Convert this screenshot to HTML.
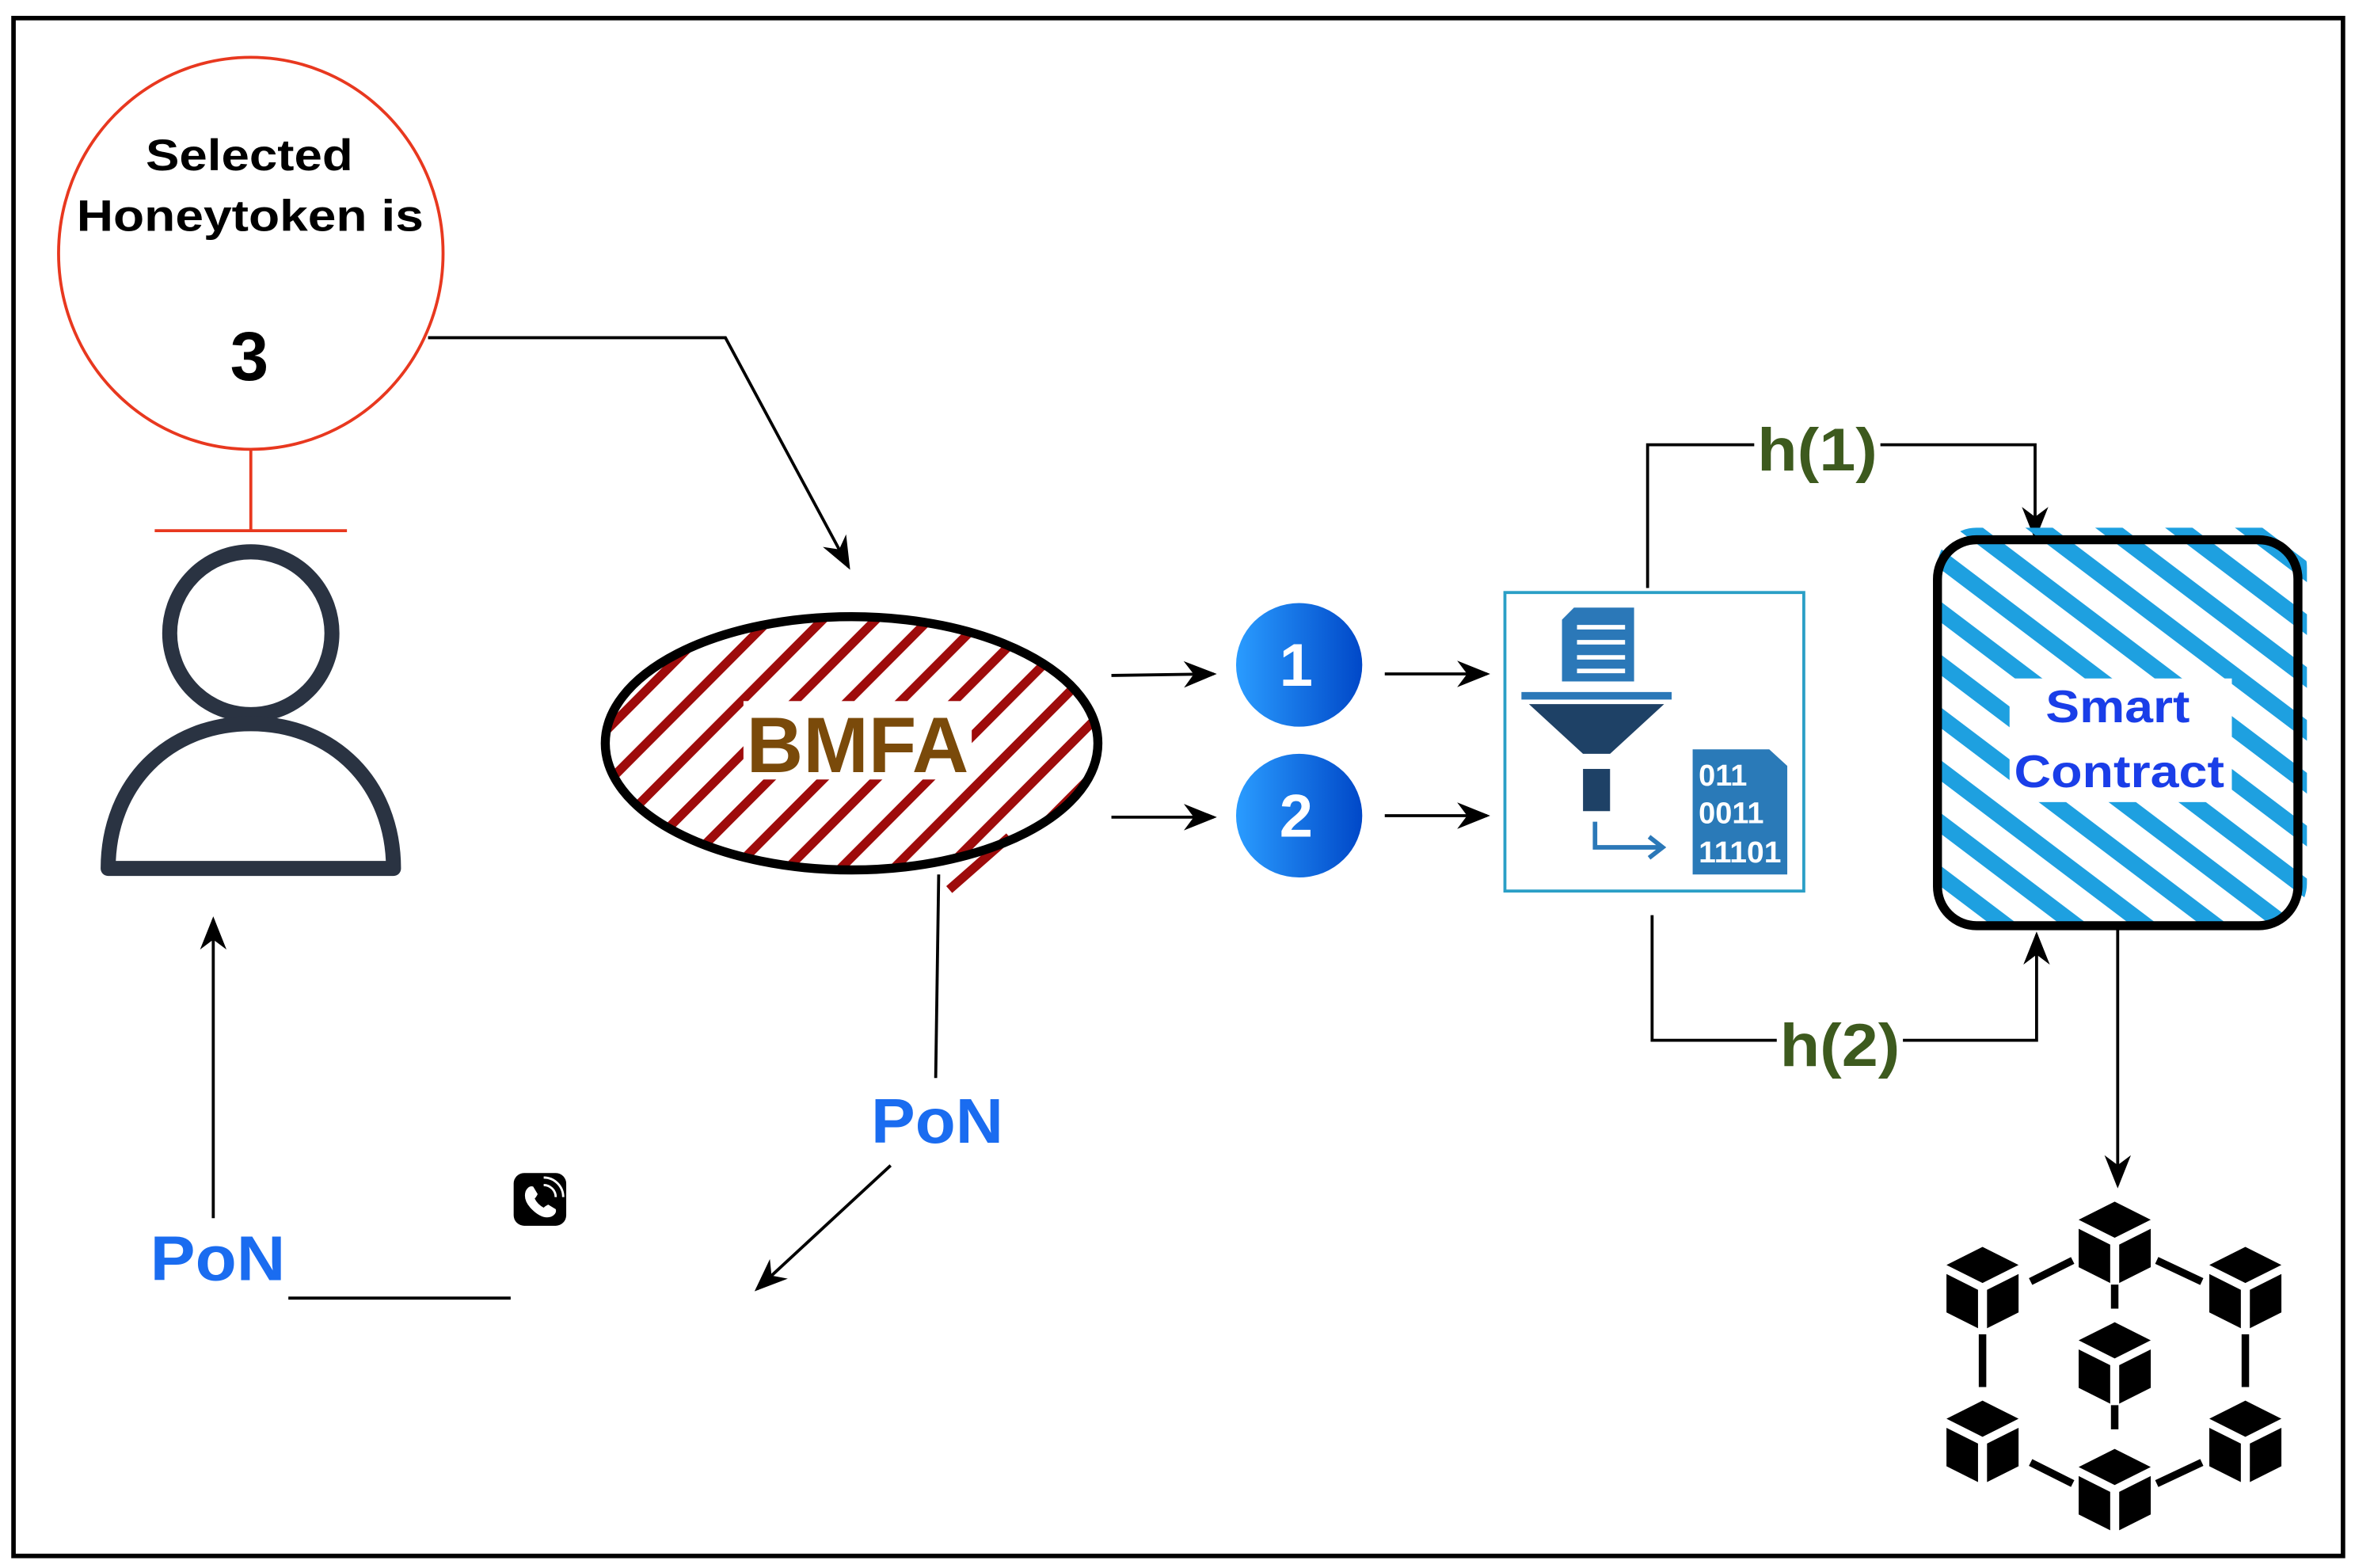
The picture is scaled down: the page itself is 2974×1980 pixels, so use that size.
<!DOCTYPE html>
<html><head><meta charset="utf-8"><style>
html,body{margin:0;padding:0;background:#fff;}
svg{display:block;}
text{font-family:"Liberation Sans",Arial,sans-serif;font-weight:bold;}
</style></head><body>
<svg width="2974" height="1980" viewBox="0 0 1568 1040" preserveAspectRatio="none" xmlns="http://www.w3.org/2000/svg">
<defs>
<marker id="ah" viewBox="0 0 20 20" refX="18" refY="10" markerWidth="22" markerHeight="22" markerUnits="userSpaceOnUse" orient="auto">
<path d="M0,2 L20,10 L0,18 L6,10 Z" fill="#000"/></marker>
<pattern id="red" width="25" height="25" patternUnits="userSpaceOnUse" patternTransform="rotate(45)">
<rect x="0" y="0" width="6" height="25" fill="#9e0b0b"/></pattern>
<pattern id="blu" width="28" height="28" patternUnits="userSpaceOnUse" patternTransform="rotate(-53)">
<rect x="0" y="0" width="11" height="28" fill="#1ea0e0"/></pattern>
<linearGradient id="bg" x1="0" y1="0" x2="1" y2="0"><stop offset="0" stop-color="#2a9cff"/><stop offset="1" stop-color="#0048c8"/></linearGradient>
<g id="cube"><path d="M0,-14 L16,-6 L0,2 L-16,-6 Z" fill="#000"/><path d="M-16,-2 L-2,5 L-2,22 L-16,15 Z" fill="#000"/><path d="M16,-2 L2,5 L2,22 L16,15 Z" fill="#000"/></g>
</defs>
<rect x="9" y="12" width="1551" height="1020" fill="none" stroke="#000" stroke-width="3"/>

<ellipse cx="167" cy="168" rx="128" ry="130" fill="#fff" stroke="#e8381f" stroke-width="2"/>
<text x="97" y="113" font-size="29" textLength="138" lengthAdjust="spacingAndGlyphs">Selected</text>
<text x="51" y="153" font-size="29" textLength="231" lengthAdjust="spacingAndGlyphs">Honeytoken is</text>
<text x="166" y="252" font-size="46" text-anchor="middle">3</text>
<path d="M167,298 V352 M103,352 H231" stroke="#e8381f" stroke-width="2" fill="none"/>

<circle cx="167" cy="420" r="54" fill="none" stroke="#2a3342" stroke-width="10"/>
<path d="M72,576 C72,520 112,480 167,480 C222,480 262,520 262,576 Z" fill="none" stroke="#2a3342" stroke-width="10" stroke-linejoin="round"/>

<path d="M285,224 H483 L565,376" fill="none" stroke="#000" stroke-width="2" marker-end="url(#ah)"/>

<ellipse cx="567" cy="493" rx="164" ry="84" fill="url(#red)"/>
<line x1="632" y1="590" x2="672" y2="555" stroke="#9e0b0b" stroke-width="6"/>
<ellipse cx="567" cy="493" rx="164" ry="84" fill="none" stroke="#000" stroke-width="6"/>
<rect x="495" y="465" width="152" height="52" fill="#fff"/>
<text x="497" y="512" font-size="52" fill="#7a4a0a" textLength="148" lengthAdjust="spacingAndGlyphs">BMFA</text>

<path d="M740,448 L808,447" stroke="#000" stroke-width="2" marker-end="url(#ah)"/>
<path d="M740,542 L808,542" stroke="#000" stroke-width="2" marker-end="url(#ah)"/>
<path d="M922,447 L990,447" stroke="#000" stroke-width="2" marker-end="url(#ah)"/>
<path d="M922,541 L990,541" stroke="#000" stroke-width="2" marker-end="url(#ah)"/>
<ellipse cx="865" cy="441" rx="42" ry="41" fill="url(#bg)"/>
<ellipse cx="865" cy="541" rx="42" ry="41" fill="url(#bg)"/>
<text x="863" y="455" font-size="40" fill="#fff" text-anchor="middle">1</text>
<text x="863" y="555" font-size="40" fill="#fff" text-anchor="middle">2</text>

<rect x="1002" y="393" width="199" height="198" fill="#fff" stroke="#2a9fc6" stroke-width="2"/>
<path d="M1048,403 H1088 V452 H1040 V411 Z" fill="#2b78b8"/>
<path d="M1050,416 H1082 M1050,426 H1082 M1050,436 H1082 M1050,445 H1082" stroke="#fff" stroke-width="3"/>
<rect x="1013" y="459" width="100" height="5" fill="#2b78b8"/>
<path d="M1018,467 H1108 L1072,500 H1054 Z" fill="#1e4166"/>
<rect x="1054" y="510" width="18" height="28" fill="#1e4166"/>
<path d="M1062,545 V562 H1106" fill="none" stroke="#2b78b8" stroke-width="3"/>
<path d="M1098,555 L1107,562 L1098,569" fill="none" stroke="#2b78b8" stroke-width="3"/>
<path d="M1127,497 H1178 L1190,508 V580 H1127 Z" fill="#2a7ab8"/>
<text x="1131" y="521" font-size="20" fill="#fff">011</text>
<text x="1131" y="546" font-size="20" fill="#fff">0011</text>
<text x="1131" y="572" font-size="20" fill="#fff" textLength="55" lengthAdjust="spacingAndGlyphs">11101</text>

<path d="M1097,390 V295 H1355 V356" fill="none" stroke="#000" stroke-width="2" marker-end="url(#ah)"/>
<rect x="1168" y="275" width="84" height="44" fill="#fff"/>
<text x="1170" y="312" font-size="40" fill="#3d5a1e" textLength="80" lengthAdjust="spacingAndGlyphs">h(1)</text>
<path d="M1100,607 V690 H1356 V620" fill="none" stroke="#000" stroke-width="2" marker-end="url(#ah)"/>
<rect x="1183" y="670" width="84" height="44" fill="#fff"/>
<text x="1185" y="707" font-size="40" fill="#3d5a1e" textLength="80" lengthAdjust="spacingAndGlyphs">h(2)</text>

<rect x="1290" y="350" width="246" height="262" rx="26" fill="url(#blu)"/>
<rect x="1290" y="358" width="240" height="256" rx="26" fill="none" stroke="#000" stroke-width="6"/>
<rect x="1338" y="450" width="148" height="82" fill="#fff"/>
<text x="1362" y="479" font-size="30" fill="#1a3ee8" textLength="96" lengthAdjust="spacingAndGlyphs">Smart</text>
<text x="1341" y="522" font-size="30" fill="#1a3ee8" textLength="140" lengthAdjust="spacingAndGlyphs">Contract</text>
<path d="M1410,615 V786" fill="none" stroke="#000" stroke-width="2" marker-end="url(#ah)"/>

<g stroke="#000" stroke-width="5" fill="none">
<path d="M1352,850 L1380,836 M1436,836 L1466,850 M1320,885 V920 M1495,885 V920 M1408,852 V868 M1408,932 V948 M1352,970 L1380,984 M1436,984 L1466,970"/>
</g>
<use href="#cube" transform="translate(1408,818) scale(1.5)"/>
<use href="#cube" transform="translate(1320,848) scale(1.5)"/>
<use href="#cube" transform="translate(1495,848) scale(1.5)"/>
<use href="#cube" transform="translate(1408,898) scale(1.5)"/>
<use href="#cube" transform="translate(1320,950) scale(1.5)"/>
<use href="#cube" transform="translate(1495,950) scale(1.5)"/>
<use href="#cube" transform="translate(1408,982) scale(1.5)"/>

<path d="M142,808 V610" fill="none" stroke="#000" stroke-width="2" marker-end="url(#ah)"/>
<text x="100" y="849" font-size="42" fill="#1a6cf0" textLength="90" lengthAdjust="spacingAndGlyphs">PoN</text>
<path d="M192,861 H340" stroke="#000" stroke-width="2"/>
<rect x="342" y="778" width="35" height="35" rx="7" fill="#000"/>
<path d="M350,790 q2,-4 5,-3 l3,5 q-1,2 -2,3 q2,4 6,6 q1,-1 3,-2 l5,3 q1,3 -3,5 q-6,2 -13,-5 q-6,-6 -4,-12 Z" fill="#fff"/>
<path d="M362,786 a8,8 0 0 1 8,8 M362,781 a13,13 0 0 1 13,13" stroke="#fff" stroke-width="1.5" fill="none"/>

<path d="M625,580 L623,715" stroke="#000" stroke-width="2"/>
<text x="580" y="758" font-size="42" fill="#1a6cf0" textLength="88" lengthAdjust="spacingAndGlyphs">PoN</text>
<path d="M593,773 L504,855" fill="none" stroke="#000" stroke-width="2" marker-end="url(#ah)"/>
</svg>
</body></html>
